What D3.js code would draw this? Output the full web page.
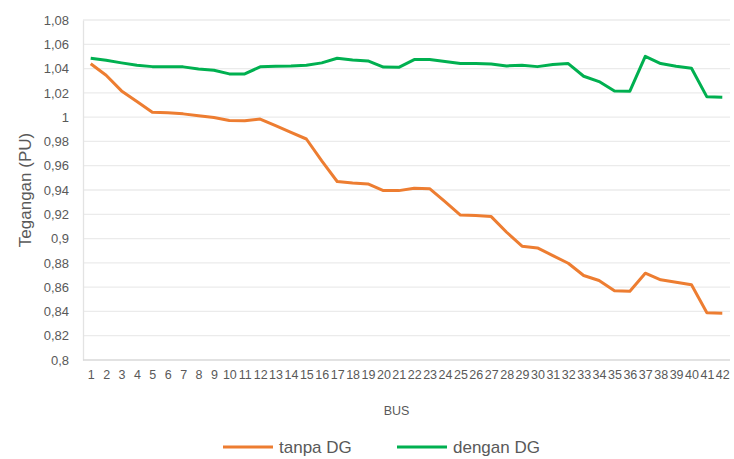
<!DOCTYPE html>
<html>
<head>
<meta charset="utf-8">
<script src="https://cdn.jsdelivr.net/npm/d3@7"></script>
<style>
  html, body { margin: 0; padding: 0; background: #fff; }
  svg { display: block; font-family: "Liberation Sans", Arial, sans-serif; }
</style>
</head>
<body>
<svg id="chart" width="734" height="459"></svg>
<script>
const buses = d3.range(1, 43).map(String);
const tanpaDG = [1.044, 1.0345, 1.0216, 1.0129, 1.0041, 1.0036, 1.0027, 1.0011, 0.9997, 0.9973,
  0.997, 0.9984, 0.993, 0.9874, 0.982, 0.964, 0.947, 0.9458, 0.945, 0.9395,
  0.9395, 0.9415, 0.9411, 0.9304, 0.9194, 0.9189, 0.9181, 0.9052, 0.8937, 0.8923,
  0.886, 0.8797, 0.8696, 0.8655, 0.857, 0.8567, 0.8715, 0.866, 0.8641, 0.8619,
  0.8389, 0.8386];
const denganDG = [1.0485, 1.0468, 1.0447, 1.0427, 1.0416, 1.0414, 1.0414, 1.0397, 1.0386, 1.0356,
  1.0356, 1.0414, 1.042, 1.0422, 1.0427, 1.0447, 1.0485, 1.047, 1.0463, 1.0412,
  1.041, 1.0474, 1.0474, 1.0458, 1.0441, 1.0441, 1.0438, 1.0422, 1.0427, 1.0416,
  1.0433, 1.0441, 1.0337, 1.0293, 1.0216, 1.0214, 1.0501, 1.0441, 1.0419, 1.0403,
  1.0167, 1.0164];
const yTicks = [0.8, 0.82, 0.84, 0.86, 0.88, 0.9, 0.92, 0.94, 0.96, 0.98, 1, 1.02, 1.04, 1.06, 1.08];
const seriesNames = ["tanpa DG", "dengan DG"];
const seriesColors = ["#ED7D31", "#00B050"];

const svg = d3.select("#chart");
const mLeft = 83, mRight = 730, mTop = 20, mBottom = 360;

const x = d3.scalePoint().domain(buses).range([mLeft, mRight]).padding(0.5);
const y = d3.scaleLinear().domain([0.8, 1.08]).range([mBottom, mTop]);

const fmt = v => String(+v.toFixed(2)).replace(".", ",");

// gridlines
svg.append("g")
  .selectAll("line")
  .data(yTicks.filter(t => t > 0.8))
  .join("line")
  .attr("x1", mLeft).attr("x2", mRight)
  .attr("y1", d => y(d)).attr("y2", d => y(d))
  .attr("stroke", "#ebebeb").attr("stroke-width", 1.3);

// y axis
const yAxis = svg.append("g")
  .attr("transform", `translate(${mLeft},0)`)
  .call(d3.axisLeft(y).tickValues(yTicks).tickFormat(fmt).tickSize(0).tickPadding(14));
yAxis.select(".domain").attr("stroke", "#e3e3e3").attr("stroke-width", 1.3);
yAxis.selectAll("text").attr("fill", "#595959").style("font-size", "13px");

// x axis
const xAxis = svg.append("g")
  .attr("transform", `translate(0,${mBottom})`)
  .call(d3.axisBottom(x).tickSize(0).tickPadding(10));
xAxis.select(".domain").attr("stroke", "#d9d9d9").attr("stroke-width", 1.3)
  .attr("d", `M${mLeft},0H${mRight}`);
xAxis.selectAll("text").attr("fill", "#595959").style("font-size", "12.5px");

// axis titles
svg.append("text")
  .attr("transform", `translate(31,${(mTop + mBottom) / 2}) rotate(-90)`)
  .attr("text-anchor", "middle")
  .attr("fill", "#595959")
  .style("font-size", "17px")
  .text("Tegangan (PU)");

svg.append("text")
  .attr("x", (mLeft + mRight) / 2 - 10).attr("y", 415)
  .attr("text-anchor", "middle")
  .attr("fill", "#595959")
  .style("font-size", "12.5px")
  .text("BUS");

// lines
const line = d3.line().x((d, i) => x(buses[i])).y(d => y(d));
[tanpaDG, denganDG].forEach((s, k) => {
  svg.append("path")
    .datum(s)
    .attr("d", line)
    .attr("fill", "none")
    .attr("stroke", seriesColors[k])
    .attr("stroke-width", 3)
    .attr("stroke-linejoin", "round");
});

// legend
const legendX = [223, 397];
seriesNames.forEach((name, k) => {
  const g = svg.append("g").attr("transform", `translate(${legendX[k]},447)`);
  g.append("line").attr("x1", 0).attr("x2", 50).attr("y1", 0).attr("y2", 0)
    .attr("stroke", seriesColors[k]).attr("stroke-width", 3);
  g.append("text").attr("x", 56).attr("y", 6)
    .attr("fill", "#595959").style("font-size", "17px").text(name);
});
</script>
</body>
</html>
